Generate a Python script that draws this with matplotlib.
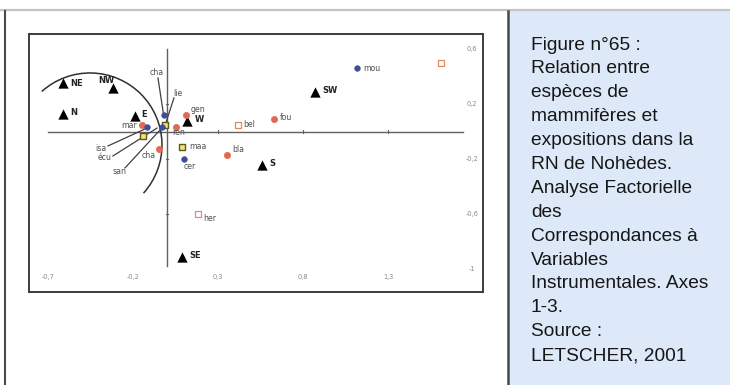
import numpy as np
import matplotlib
matplotlib.use("Agg")
import matplotlib.pyplot as plt
from matplotlib.patches import Rectangle, Arc
from matplotlib.lines import Line2D

# ---------------- data ----------------
# exposures (triangles)
expo_names = ["NE", "NW", "N", "E", "W", "SW", "S", "SE"]
expo_x = [-0.61, -0.32, -0.61, -0.19, 0.12, 0.87, 0.56, 0.09]
expo_y = [0.35, 0.32, 0.13, 0.11, 0.08, 0.29, -0.24, -0.91]

# mammal species
sp_names = ["mou", "", "fou", "bel", "bla", "her", "gen", "ren", "maa", "cer",
            "cha", "cha", "lie", "isa", "mar", "écu", "san"]
sp_x = [1.12, 1.61, 0.63, 0.42, 0.35, 0.18, 0.11, 0.05, 0.09, 0.10,
        -0.05, -0.02, -0.01, -0.03, -0.15, -0.12, -0.14]
sp_y = [0.46, 0.50, 0.09, 0.05, -0.17, -0.60, 0.12, 0.03, -0.11, -0.20,
        -0.13, 0.12, 0.05, 0.03, 0.05, 0.03, -0.03]
sp_kind = ["blue", "orange_sq", "red", "orange_sq", "red", "pink_sq", "red", "red",
           "yellow_sq", "blue", "red", "blue", "yellow_sq", "blue", "red", "blue",
           "yellow_sq"]

# labels placed away from their points, joined by leader lines
lead_names = ["cha", "lie", "isa", "écu", "san"]
lead_text_x = [-0.06, 0.065, -0.39, -0.365, -0.28]
lead_text_y = [0.43, 0.28, -0.12, -0.19, -0.29]
lead_from_x = [-0.053, 0.041, -0.347, -0.318, -0.247]
lead_from_y = [0.389, 0.244, -0.105, -0.178, -0.265]
lead_to_x = [-0.02, -0.01, -0.118, -0.059, -0.041]
lead_to_y = [0.12, 0.05, 0.025, 0.025, 0.011]

x_ticks = [-0.7, -0.2, 0.3, 0.8, 1.3]
x_tick_labels = ["-0,7", "-0,2", "0,3", "0,8", "1,3"]
y_ticks = [0.6, 0.2, -0.2, -0.6, -1.0]
y_tick_labels = ["0,6", "0,2", "-0,2", "-0,6", "-1"]

caption_lines = ["Figure n°65 :", "Relation entre", "espèces de", "mammifères et",
                 "expositions dans la", "RN de Nohèdes.", "Analyse Factorielle",
                 "des", "Correspondances à", "Variables", "Instrumentales. Axes",
                 "1-3.", "Source :", "LETSCHER, 2001"]

# ---------------- figure ----------------
W, H = 730, 385
fig = plt.figure(figsize=(W / 100, H / 100), dpi=100)
fig.patch.set_facecolor("white")


def fx(px):
    return px / W


def fy(py):
    return 1 - py / H


# caption panel
fig.patches.append(Rectangle((fx(507), 0), fx(730 - 507), fy(0) - fy(9),
                             transform=fig.transFigure, facecolor="#eef3fb",
                             edgecolor="none", zorder=0))
fig.patches.append(Rectangle((fx(507), 0), fx(730 - 507), fy(11),
                             transform=fig.transFigure, facecolor="#dde8f8",
                             edgecolor="none", zorder=0))
fig.lines.append(Line2D([0, 1], [fy(10), fy(10)], transform=fig.transFigure,
                        color="#c4c4c4", lw=1.6))
fig.lines.append(Line2D([fx(4.5), fx(4.5)], [0, fy(11)], transform=fig.transFigure,
                        color="#4a4a4a", lw=1.5))
fig.lines.append(Line2D([fx(507.5), fx(507.5)], [0, fy(11)], transform=fig.transFigure,
                        color="#4a4a4a", lw=1.8))

for i, line in enumerate(caption_lines):
    fig.text(fx(531), fy(45 + 23.9 * i), line, fontsize=13.8, color="#161616",
             family="Liberation Sans", va="center", ha="left")

# ---------------- factorial map ----------------
left, right, top, bottom = 29, 483, 34, 292
ax = fig.add_axes([fx(left), fy(bottom), fx(right - left), fy(top) - fy(bottom)])
px_per_x, px_per_y = 170.0, 137.5
x0_px, y0_px = 167.0, 131.5
ax.set_xlim((left - x0_px) / px_per_x, (right - x0_px) / px_per_x)
ax.set_ylim((y0_px - bottom) / px_per_y, (y0_px - top) / px_per_y)
ax.set_xticks([])
ax.set_yticks([])
for s in ax.spines.values():
    s.set_color("#3c3c3c")
    s.set_linewidth(1.4)

axis_col = "#606060"
ax.plot([-0.70, 1.74], [0, 0], color=axis_col, lw=1.0, zorder=1)
ax.plot([0, 0], [-0.98, 0.60], color=axis_col, lw=1.0, zorder=1)
for t in x_ticks[2:]:
    ax.plot([t, t], [-0.012, 0.012], color=axis_col, lw=0.8)
for t in [0.2, -0.2, -0.6]:
    ax.plot([-0.008, 0.008], [t, t], color=axis_col, lw=0.8)

lab_col = "#8a8a8a"
for t, lab in zip(x_ticks, x_tick_labels):
    ax.text(t, -1.058, lab, fontsize=4.8, color=lab_col, ha="center", va="center")
for t, lab in zip(y_ticks, y_tick_labels):
    ax.text(1.794, t, lab, fontsize=4.8, color=lab_col, ha="center", va="center")

# circle around the northern exposures (an ellipse in data units)
cx, cy = -0.453, -0.098
a, b = 72 / px_per_x, 72 / px_per_y
phi1, phi2 = np.deg2rad(-42), np.deg2rad(132)
th1 = np.rad2deg(np.arctan2(b * np.sin(phi1), a * np.cos(phi1)))
th2 = np.rad2deg(np.arctan2(b * np.sin(phi2), a * np.cos(phi2)))
ax.add_patch(Arc((cx, cy), 2 * a, 2 * b, theta1=th1, theta2=th2,
                 color="#303030", lw=1.1, zorder=2))

# leader lines
for x1, y1, x2, y2 in zip(lead_from_x, lead_from_y, lead_to_x, lead_to_y):
    ax.plot([x1, x2], [y1, y2], color="#404040", lw=0.9, zorder=2)

# exposures
ax.scatter(expo_x, expo_y, marker="^", s=55, color="black", zorder=4, linewidths=0)
expo_off = {"NE": (7, 0, "left"), "NW": (-6, 7, "center"), "N": (7, 1, "left"),
            "E": (7, 2, "left"), "W": (7, 1, "left"), "SW": (7, 1, "left"),
            "S": (7, 1, "left"), "SE": (7, 1, "left")}
for n, x, y in zip(expo_names, expo_x, expo_y):
    dx, dy, ha = expo_off[n]
    ax.annotate(n, (x, y), xytext=(dx, dy), textcoords="offset pixels",
                fontsize=6, fontweight="bold", color="#222222", ha=ha, va="center",
                zorder=5)

# species markers
style = {
    "blue": dict(marker="o", s=16, facecolor="#3d4d9c", edgecolor="#3d4d9c", lw=0.5),
    "red": dict(marker="o", s=20, facecolor="#e2684f", edgecolor="#e2684f", lw=0.5),
    "orange_sq": dict(marker="s", s=20, facecolor="white", edgecolor="#e58a5e", lw=0.9),
    "pink_sq": dict(marker="s", s=18, facecolor="white", edgecolor="#d88a9a", lw=0.9),
    "yellow_sq": dict(marker="s", s=22, facecolor="#f2e27a", edgecolor="#5e5a1c", lw=1.0),
}
for x, y, k in zip(sp_x, sp_y, sp_kind):
    st = style[k]
    ax.scatter([x], [y], marker=st["marker"], s=st["s"], facecolors=st["facecolor"],
               edgecolors=st["edgecolor"], linewidths=st["lw"], zorder=4)

# species labels next to their points
sp_off = {0: (6, 0, "left"), 2: (6, 2, "left"), 3: (5, 0, "left"),
          4: (6, 5, "left"), 5: (6, -4, "left"), 6: (5, 6, "left"),
          7: (-3, -5, "left"), 8: (7, 0, "left"), 9: (0, -7, "left"),
          10: (-3, -6, "right"), 14: (-4, -1, "right")}
sp_col = "#505050"
for i, (n, x, y) in enumerate(zip(sp_names, sp_x, sp_y)):
    if i in sp_off:
        dx, dy, ha = sp_off[i]
        ax.annotate(n, (x, y), xytext=(dx, dy), textcoords="offset pixels",
                    fontsize=5.6, color=sp_col, ha=ha, va="center", zorder=5)

for n, x, y in zip(lead_names, lead_text_x, lead_text_y):
    ax.text(x, y, n, fontsize=5.6, color=sp_col, ha="center", va="center", zorder=5)

fig.savefig("out.png", dpi=100, facecolor="white")
